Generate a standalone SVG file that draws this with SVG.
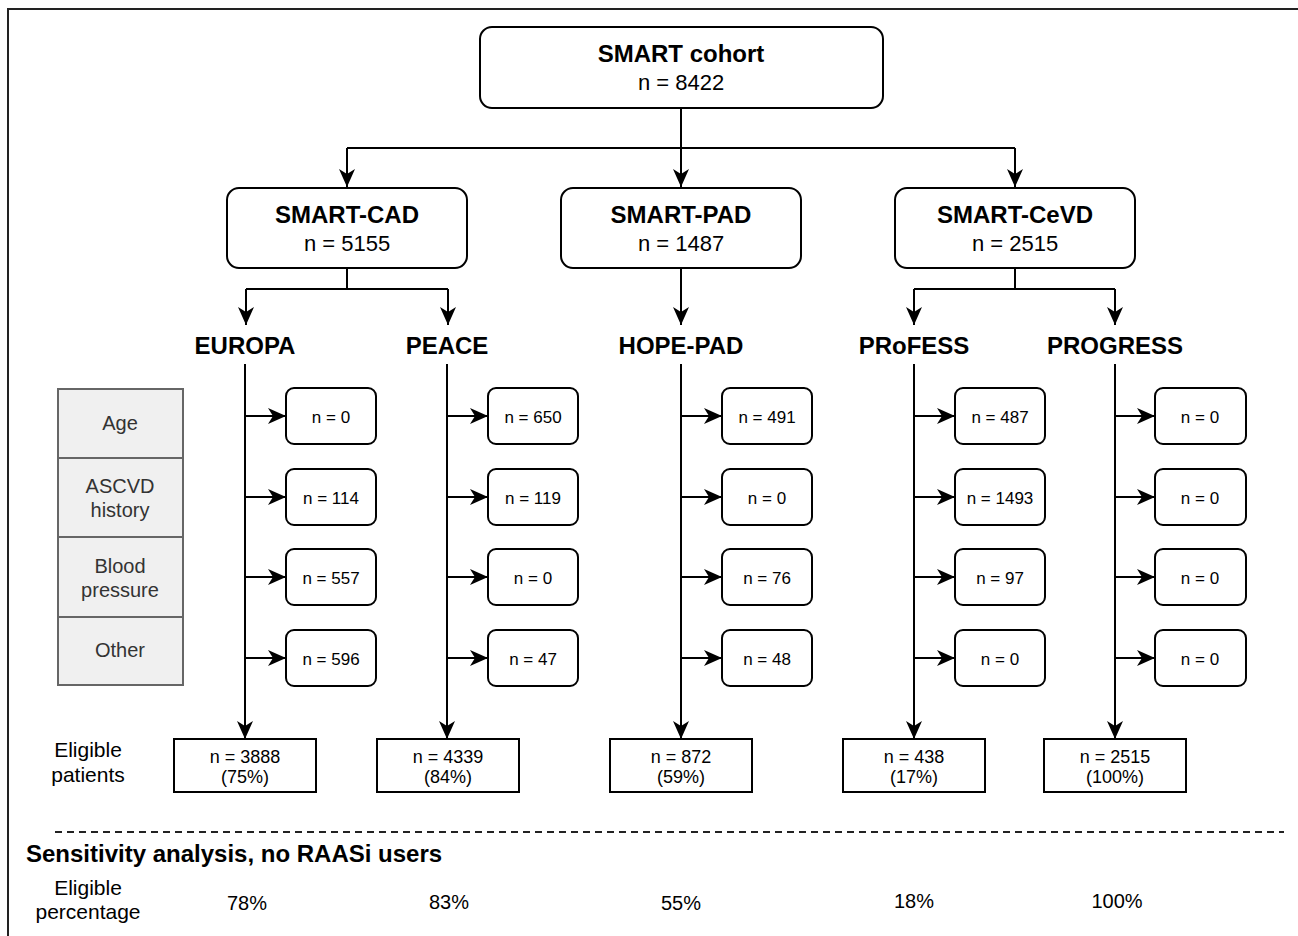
<svg xmlns="http://www.w3.org/2000/svg" width="1298" height="936" viewBox="0 0 1298 936">
<defs>
<marker id="arr" markerUnits="userSpaceOnUse" markerWidth="18" markerHeight="16" viewBox="0 0 18 16" refX="18" refY="8" orient="auto">
<path d="M0,0 L18,8 L0,16 L5,8 Z" fill="#000"/>
</marker>
<style>
text{font-family:"Liberation Sans",Arial,sans-serif;fill:#000;text-anchor:middle}
.b{font-weight:bold;font-size:24px}
.n22{font-size:22px}
.n20{font-size:20px}
.lab{font-size:21px}
.n17{font-size:17px}
.n18{font-size:18px}
.crit{font-size:20px;fill:#333}
.node{fill:#fff;stroke:#000;stroke-width:2}
.cell{fill:#f0f0f0;stroke:#666;stroke-width:2}
.ln{fill:none;stroke:#000;stroke-width:2}
.ar{fill:none;stroke:#000;stroke-width:2;marker-end:url(#arr)}
</style>
</defs>
<rect x="0" y="0" width="1298" height="936" fill="#fff"/>
<rect x="8" y="9" width="1310" height="950" fill="none" stroke="#222" stroke-width="2"/>

<g id="connectors">
<path class="ln" d="M681,107 V148 M347,148 H1015"/>
<path class="ar" d="M681,148 V187"/>
<path class="ar" d="M347,148 V187"/>
<path class="ar" d="M1015,148 V187"/>
<path class="ln" d="M347,268 V289 M246,289 H448"/>
<path class="ar" d="M246,289 V325"/>
<path class="ar" d="M448,289 V325"/>
<path class="ar" d="M681,268 V325"/>
<path class="ln" d="M1015,268 V289 M914,289 H1115"/>
<path class="ar" d="M914,289 V325"/>
<path class="ar" d="M1115,289 V325"/>
<path class="ar" d="M245,364 V739"/>
<path class="ar" d="M447,364 V739"/>
<path class="ar" d="M681,364 V739"/>
<path class="ar" d="M914,364 V739"/>
<path class="ar" d="M1115,364 V739"/>
<path class="ar" d="M245,416 H286"/><path class="ar" d="M245,497 H286"/><path class="ar" d="M245,577 H286"/><path class="ar" d="M245,658 H286"/>
<path class="ar" d="M447,416 H488"/><path class="ar" d="M447,497 H488"/><path class="ar" d="M447,577 H488"/><path class="ar" d="M447,658 H488"/>
<path class="ar" d="M681,416 H722"/><path class="ar" d="M681,497 H722"/><path class="ar" d="M681,577 H722"/><path class="ar" d="M681,658 H722"/>
<path class="ar" d="M914,416 H955"/><path class="ar" d="M914,497 H955"/><path class="ar" d="M914,577 H955"/><path class="ar" d="M914,658 H955"/>
<path class="ar" d="M1115,416 H1155"/><path class="ar" d="M1115,497 H1155"/><path class="ar" d="M1115,577 H1155"/><path class="ar" d="M1115,658 H1155"/>
<line x1="55" y1="832" x2="1284" y2="832" stroke="#222" stroke-width="2" stroke-dasharray="7 5"/>
</g>

<g id="smart-cohort">
<rect class="node" x="480" y="27" width="403" height="81" rx="12"/>
<text class="b" x="681" y="62">SMART cohort</text>
<text class="n22" x="681" y="90">n = 8422</text>
</g>
<g id="smart-cad">
<rect class="node" x="227" y="188" width="240" height="80" rx="12"/>
<text class="b" x="347" y="223">SMART-CAD</text>
<text class="n22" x="347" y="251">n = 5155</text>
</g>
<g id="smart-pad">
<rect class="node" x="561" y="188" width="240" height="80" rx="12"/>
<text class="b" x="681" y="223">SMART-PAD</text>
<text class="n22" x="681" y="251">n = 1487</text>
</g>
<g id="smart-cevd">
<rect class="node" x="895" y="188" width="240" height="80" rx="12"/>
<text class="b" x="1015" y="223">SMART-CeVD</text>
<text class="n22" x="1015" y="251">n = 2515</text>
</g>

<g id="trial-labels">
<text class="b" x="245" y="354">EUROPA</text>
<text class="b" x="447" y="354">PEACE</text>
<text class="b" x="681" y="354">HOPE-PAD</text>
<text class="b" x="914" y="354">PRoFESS</text>
<text class="b" x="1115" y="354">PROGRESS</text>
</g>

<g id="criteria">
<rect class="cell" x="58" y="389" width="125" height="69"/>
<rect class="cell" x="58" y="458" width="125" height="79"/>
<rect class="cell" x="58" y="537" width="125" height="80"/>
<rect class="cell" x="58" y="617" width="125" height="68"/>
<text class="crit" x="120" y="430">Age</text>
<text class="crit" x="120" y="493">ASCVD</text>
<text class="crit" x="120" y="517">history</text>
<text class="crit" x="120" y="573">Blood</text>
<text class="crit" x="120" y="597">pressure</text>
<text class="crit" x="120" y="657">Other</text>
</g>

<g id="europa-excl">
<rect class="node" x="286" y="388" width="90" height="56" rx="8"/><text class="n17" x="331" y="423">n = 0</text>
<rect class="node" x="286" y="469" width="90" height="56" rx="8"/><text class="n17" x="331" y="504">n = 114</text>
<rect class="node" x="286" y="549" width="90" height="56" rx="8"/><text class="n17" x="331" y="584">n = 557</text>
<rect class="node" x="286" y="630" width="90" height="56" rx="8"/><text class="n17" x="331" y="665">n = 596</text>
</g>
<g id="peace-excl">
<rect class="node" x="488" y="388" width="90" height="56" rx="8"/><text class="n17" x="533" y="423">n = 650</text>
<rect class="node" x="488" y="469" width="90" height="56" rx="8"/><text class="n17" x="533" y="504">n = 119</text>
<rect class="node" x="488" y="549" width="90" height="56" rx="8"/><text class="n17" x="533" y="584">n = 0</text>
<rect class="node" x="488" y="630" width="90" height="56" rx="8"/><text class="n17" x="533" y="665">n = 47</text>
</g>
<g id="hopepad-excl">
<rect class="node" x="722" y="388" width="90" height="56" rx="8"/><text class="n17" x="767" y="423">n = 491</text>
<rect class="node" x="722" y="469" width="90" height="56" rx="8"/><text class="n17" x="767" y="504">n = 0</text>
<rect class="node" x="722" y="549" width="90" height="56" rx="8"/><text class="n17" x="767" y="584">n = 76</text>
<rect class="node" x="722" y="630" width="90" height="56" rx="8"/><text class="n17" x="767" y="665">n = 48</text>
</g>
<g id="profess-excl">
<rect class="node" x="955" y="388" width="90" height="56" rx="8"/><text class="n17" x="1000" y="423">n = 487</text>
<rect class="node" x="955" y="469" width="90" height="56" rx="8"/><text class="n17" x="1000" y="504">n = 1493</text>
<rect class="node" x="955" y="549" width="90" height="56" rx="8"/><text class="n17" x="1000" y="584">n = 97</text>
<rect class="node" x="955" y="630" width="90" height="56" rx="8"/><text class="n17" x="1000" y="665">n = 0</text>
</g>
<g id="progress-excl">
<rect class="node" x="1155" y="388" width="91" height="56" rx="8"/><text class="n17" x="1200" y="423">n = 0</text>
<rect class="node" x="1155" y="469" width="91" height="56" rx="8"/><text class="n17" x="1200" y="504">n = 0</text>
<rect class="node" x="1155" y="549" width="91" height="56" rx="8"/><text class="n17" x="1200" y="584">n = 0</text>
<rect class="node" x="1155" y="630" width="91" height="56" rx="8"/><text class="n17" x="1200" y="665">n = 0</text>
</g>

<g id="eligible-label">
<text class="lab" x="88" y="757">Eligible</text>
<text class="lab" x="88" y="782">patients</text>
</g>
<g id="eligible-europa"><rect class="node" x="174" y="739" width="142" height="53"/><text class="n18" x="245" y="763">n = 3888</text><text class="n18" x="245" y="783">(75%)</text></g>
<g id="eligible-peace"><rect class="node" x="377" y="739" width="142" height="53"/><text class="n18" x="448" y="763">n = 4339</text><text class="n18" x="448" y="783">(84%)</text></g>
<g id="eligible-hopepad"><rect class="node" x="610" y="739" width="142" height="53"/><text class="n18" x="681" y="763">n = 872</text><text class="n18" x="681" y="783">(59%)</text></g>
<g id="eligible-profess"><rect class="node" x="843" y="739" width="142" height="53"/><text class="n18" x="914" y="763">n = 438</text><text class="n18" x="914" y="783">(17%)</text></g>
<g id="eligible-progress"><rect class="node" x="1044" y="739" width="142" height="53"/><text class="n18" x="1115" y="763">n = 2515</text><text class="n18" x="1115" y="783">(100%)</text></g>

<g id="sensitivity">
<text x="26" y="862" style="font-weight:bold;font-size:24px;text-anchor:start">Sensitivity analysis, no RAASi users</text>
<text class="lab" x="88" y="895">Eligible</text>
<text class="lab" x="88" y="919">percentage</text>
<text class="n20" x="247" y="910">78%</text>
<text class="n20" x="449" y="909">83%</text>
<text class="n20" x="681" y="910">55%</text>
<text class="n20" x="914" y="908">18%</text>
<text class="n20" x="1117" y="908">100%</text>
</g>
</svg>
